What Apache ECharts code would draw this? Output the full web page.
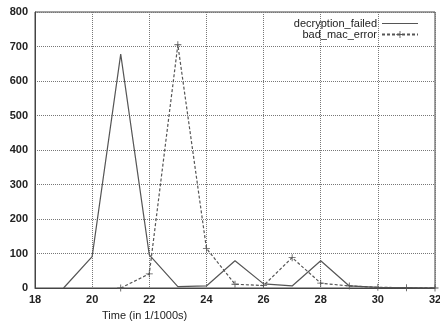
<!DOCTYPE html>
<html><head><meta charset="utf-8">
<script src="https://cdn.jsdelivr.net/npm/echarts@6/dist/echarts.min.js"></script>
<style>html,body{margin:0;padding:0;background:#fff}#c{width:440px;height:322px}</style>
</head><body><div id="c"></div>
<script>
const xTimes = [19, 20, 21, 22, 23, 24, 25, 26, 27, 28, 29, 30, 31, 32];
const decryptionFailed = [0, 91, 678, 96, 4, 6, 79, 12, 6, 79, 6, 2, 1, 0];
const badMacTimes = [21, 22, 23, 24, 25, 26, 27, 28, 29, 30, 31, 32];
const badMacError = [0, 41, 705, 115, 11, 7, 88, 14, 6, 2, 1, 0];
const seriesNames = ['decryption_failed', 'bad_mac_error'];
const xAxisTitle = 'Time (in 1/1000s)';

const pair = (xs, ys) => xs.map((x, i) => [x, ys[i]]);
const plus = 'path://M-1,-0.12L1,-0.12L1,0.12L-1,0.12Z M-0.12,-1L0.12,-1L0.12,1L-0.12,1Z';
const font = 'Liberation Sans, Arial, sans-serif';
const chart = echarts.init(document.getElementById('c'));
chart.setOption({
  animation: false,
  backgroundColor: '#fff',
  title: {
    text: xAxisTitle, left: 102, top: 310, padding: 0,
    textStyle: { fontFamily: font, fontSize: 11, color: '#222', fontWeight: 'normal' }
  },
  grid: { left: 35, right: 5, top: 12, bottom: 34, show: true, borderColor: '#444', borderWidth: 1, outerBoundsMode: 'none' },
  legend: {
    right: 16, top: 13, orient: 'vertical', align: 'right', itemGap: 0,
    itemWidth: 36, itemHeight: 9,
    textStyle: { fontFamily: font, fontSize: 11, color: '#222' },
    data: [
      { name: seriesNames[0], icon: 'path://M0,0L36,0L36,1.2L0,1.2Z' },
      { name: seriesNames[1] }
    ]
  },
  xAxis: {
    type: 'value', min: 18, max: 32, interval: 2,
    axisLine: { lineStyle: { color: '#444' } },
    axisTick: { show: false },
    axisLabel: { fontFamily: font, fontSize: 11, color: '#222', fontWeight: 'bold', margin: 6 },
    splitLine: { show: true, lineStyle: { color: '#777', type: [1, 1], width: 1 } }
  },
  yAxis: {
    type: 'value', min: 0, max: 800, interval: 100,
    axisLine: { show: true, lineStyle: { color: '#444' } },
    axisTick: { show: false },
    axisLabel: { fontFamily: font, fontSize: 11, color: '#222', fontWeight: 'bold', margin: 7 },
    splitLine: { show: true, lineStyle: { color: '#777', type: [1, 1], width: 1 } }
  },
  series: [
    {
      name: seriesNames[0], type: 'line', data: pair(xTimes, decryptionFailed),
      showSymbol: false, symbol: 'none',
      lineStyle: { color: '#555', width: 1.2 }, itemStyle: { color: '#555' }
    },
    {
      name: seriesNames[1], type: 'line', data: pair(badMacTimes, badMacError),
      symbol: plus, symbolSize: 7, showSymbol: true,
      lineStyle: { color: '#555', width: 1.2, type: [3, 2] }, itemStyle: { color: '#555' }
    }
  ]
});
</script></body></html>
